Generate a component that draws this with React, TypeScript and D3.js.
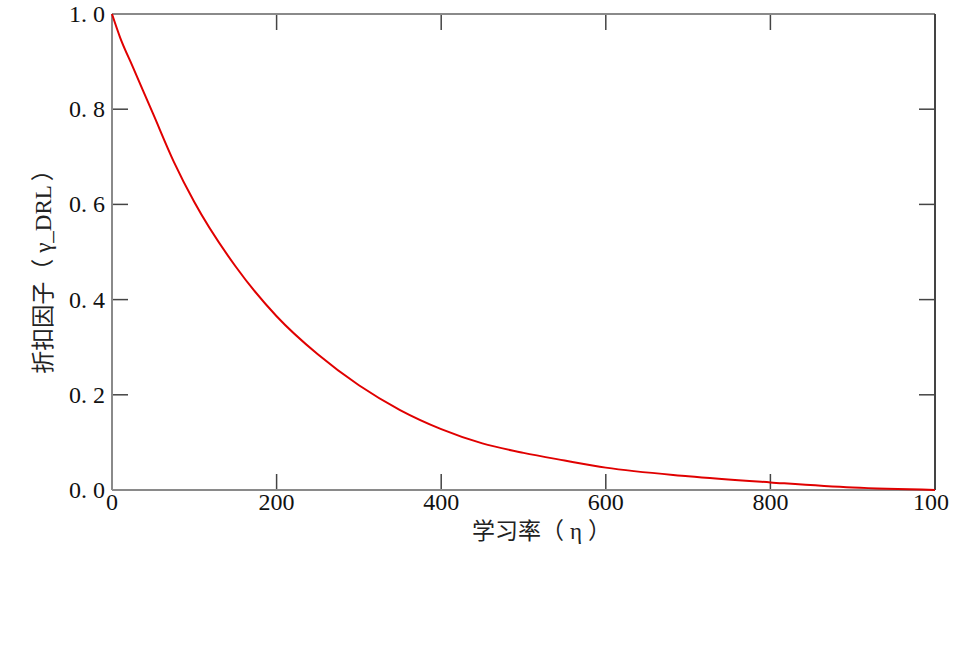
import React from "react";
import * as d3 from "d3";

const xValues = [0, 10, 25, 50, 75, 100, 150, 200, 250, 300, 350, 400, 450, 500, 550, 600, 700, 800, 900, 1000];
const yValues = [1.0, 0.95, 0.89, 0.79, 0.69, 0.605, 0.47, 0.365, 0.285, 0.22, 0.168, 0.128, 0.098, 0.078, 0.062, 0.047, 0.029, 0.016, 0.005, 0.0];
const xTicks = [0, 200, 400, 600, 800, 1000];
const xTickLabels = ["0", "200", "400", "600", "800", "100"];
const yTicks = [0, 0.2, 0.4, 0.6, 0.8, 1.0];
const yTickLabels = ["0.0", "0.2", "0.4", "0.6", "0.8", "1.0"];
const xTitleParts = ["学习率（", "η", "）"];
const yTitleParts = ["折扣因子（", "γ_DRL", "）"];

const W = 961, H = 657;
const L = 112, R = 935, T = 14, B = 490;

export default function App() {
  const x = d3.scaleLinear().domain([0, 1000]).range([L, R]);
  const y = d3.scaleLinear().domain([0, 1]).range([B, T]);
  const pts: [number, number][] = xValues.map((v, i) => [v, yValues[i]]);
  const line = d3.line<[number, number]>().x(d => x(d[0])).y(d => y(d[1])).curve(d3.curveMonotoneX);
  const tickLen = 16;
  const serif = "'Liberation Serif', 'DejaVu Serif', serif";
  const cjk = "'Noto Sans CJK SC', sans-serif";
  return (
    <svg width={W} height={H} style={{ position: "absolute", left: 0, top: 0, background: "#fff" }}>
      {xTicks.slice(1, -1).map(t => (
        <g key={"xt" + t} stroke="#444" strokeWidth={1.5}>
          <line x1={x(t)} x2={x(t)} y1={B} y2={B - tickLen} />
          <line x1={x(t)} x2={x(t)} y1={T} y2={T + tickLen} />
        </g>
      ))}
      {yTicks.slice(1, -1).map(t => (
        <g key={"yt" + t} stroke="#444" strokeWidth={1.5}>
          <line x1={L} x2={L + tickLen} y1={y(t)} y2={y(t)} />
          <line x1={R} x2={R - tickLen} y1={y(t)} y2={y(t)} />
        </g>
      ))}
      <line x1={L} x2={R} y1={T} y2={T} stroke="#8a8a8a" strokeWidth={2} />
      <line x1={L} x2={R} y1={B} y2={B} stroke="#8a8a8a" strokeWidth={2} />
      <line x1={L} x2={L} y1={T} y2={B} stroke="#8a8a8a" strokeWidth={2} />
      <line x1={R} x2={R} y1={T} y2={B} stroke="#444" strokeWidth={2} />
      <path d={line(pts) || ""} fill="none" stroke="#e00000" strokeWidth={2} />
      {xTicks.map((t, i) => (
        <text key={"xl" + t} x={x(t) + (i === xTicks.length - 1 ? -4 : 0)} y={510} textAnchor="middle" fontFamily={serif} fontSize={24} fill="#111">
          {xTickLabels[i]}
        </text>
      ))}
      {yTicks.map((t, i) => {
        const [a, b] = yTickLabels[i].split(".");
        return (
          <text key={"yl" + t} x={105} y={y(t) + 8} textAnchor="end" fontFamily={serif} fontSize={24} fill="#111">
            <tspan>{a + "."}</tspan>
            <tspan dx={6}>{b}</tspan>
          </text>
        );
      })}
      <text x={472} y={539} fontFamily={cjk} fontSize={23} fill="#222">
        <tspan>{xTitleParts[0]}</tspan>
        <tspan dx={6} fontFamily={serif}>{xTitleParts[1]}</tspan>
        <tspan dx={6}>{xTitleParts[2]}</tspan>
      </text>
      <text transform={`translate(51,266) rotate(-90)`} textAnchor="middle" fontFamily={cjk} fontSize={23} fill="#222">
        <tspan>{yTitleParts[0]}</tspan>
        <tspan dx={6} fontFamily={serif}>{yTitleParts[1]}</tspan>
        <tspan dx={4}>{yTitleParts[2]}</tspan>
      </text>
    </svg>
  );
}
